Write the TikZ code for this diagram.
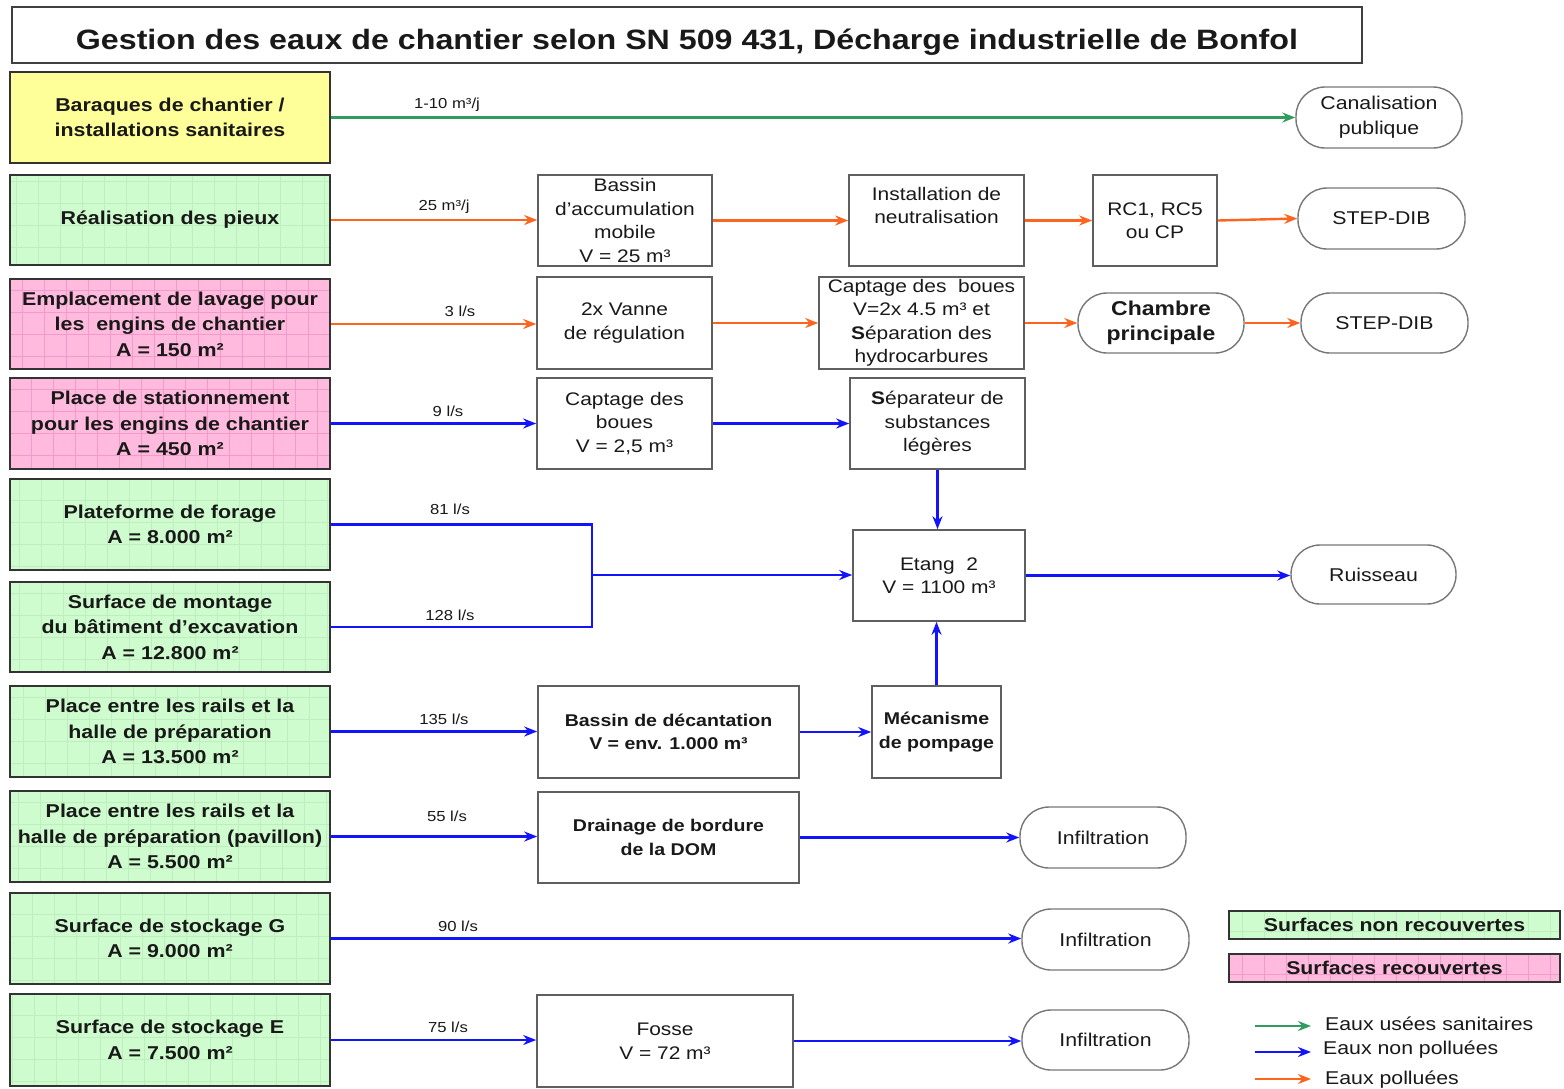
\documentclass[tikz,border=0pt]{standalone}
\usepackage{fontspec}
\setmainfont[FakeStretch=1.15]{Liberation Sans}
\usetikzlibrary{arrows.meta}
\definecolor{cyel}{RGB}{255,255,153}
\definecolor{cgreen}{RGB}{206,252,206}
\definecolor{cgreengrid}{RGB}{190,238,190}
\definecolor{cpink}{RGB}{255,186,222}
\definecolor{cpinkgrid}{RGB}{242,155,203}
\definecolor{agreen}{RGB}{50,155,95}
\definecolor{ablue}{RGB}{20,20,250}
\definecolor{aorange}{RGB}{255,100,30}
\definecolor{cborder}{RGB}{95,95,95}
\definecolor{ctext}{RGB}{25,25,25}
\newcommand\mybox[7]{\node[#1, minimum width={(#5-#3)*1pt}, minimum height={(#6-#4)*1pt}] (#2) at ({(#3+#5)/2},{(#4+#6)/2}) {#7};}
\tikzset{
  base/.style={inner sep=0pt, align=center, text=ctext},
  leftbox/.style={base, draw=black!80, line width=1.3pt, font=\bfseries\fontsize{18.6pt}{25.5pt}\selectfont},
  yelbox/.style={leftbox, fill=cyel},
  greenbox/.style={leftbox, fill=cgreen, path picture={\draw[cgreengrid, line width=0.6pt, step=22pt] (path picture bounding box.south west) grid (path picture bounding box.north east);}},
  pinkbox/.style={leftbox, fill=cpink, path picture={\draw[cpinkgrid, line width=0.6pt, step=22pt] (path picture bounding box.south west) grid (path picture bounding box.north east);}},
  midbox/.style={base, draw=cborder, line width=1.6pt, fill=white, font=\fontsize{18.2pt}{23.5pt}\selectfont},
  midboxb/.style={midbox, font=\bfseries\fontsize{17pt}{23.5pt}\selectfont},
  endbox/.style={base, draw=cborder!85, line width=1.4pt, rounded corners=29pt, fill=white, font=\fontsize{18.5pt}{25pt}\selectfont},
  endboxb/.style={endbox, font=\bfseries\fontsize{20pt}{25pt}\selectfont},
  lbl/.style={inner sep=0pt, text=ctext, font=\fontsize{14.5pt}{16pt}\selectfont},
  arr/.style={line width=2.4pt, -{Stealth[length=13pt,width=10pt]}},
  gline/.style={arr, draw=agreen},
  bline/.style={arr, draw=ablue},
  oline/.style={arr, draw=aorange},
  bplain/.style={line width=2.4pt, draw=ablue},
  legtext/.style={inner sep=0pt, anchor=west, text=ctext, font=\fontsize{18.5pt}{22pt}\selectfont},
}
\begin{document}
\begin{tikzpicture}[x=1pt,y=-1pt]
\useasboundingbox (0,0) rectangle (1564,1088);
\fill[white] (0,0) rectangle (1564,1088);
% title
\mybox{base, draw=black!75, line width=1.4pt, font=\bfseries\fontsize{28pt}{32pt}\selectfont}{title}{12}{7}{1362}{63}{\raisebox{-4pt}[20pt][0pt]{Gestion des eaux de chantier selon SN 509 431, Décharge industrielle de Bonfol}}
% left column
\mybox{yelbox}{s1}{10}{72}{330}{163}{Baraques de chantier /\\installations sanitaires}
\mybox{greenbox}{s2}{10}{175}{330}{265}{Réalisation des pieux}
\mybox{pinkbox}{s3}{10}{279}{330}{369}{Emplacement de lavage pour\\les\ \ engins de chantier\\A = 150 m²}
\mybox{pinkbox}{s4}{10}{378}{330}{469}{Place de stationnement\\pour les engins de chantier\\A = 450 m²}
\mybox{greenbox}{s5}{10}{479}{330}{570}{Plateforme de forage\\A = 8.000 m²}
\mybox{greenbox}{s6}{10}{582}{330}{672}{Surface de montage\\du bâtiment d'excavation\\A = 12.800 m²}
\mybox{greenbox}{s7}{10}{686}{330}{777}{Place entre les rails et la\\halle de préparation\\A = 13.500 m²}
\mybox{greenbox}{s8}{10}{791}{330}{882}{Place entre les rails et la\\halle de préparation (pavillon)\\A = 5.500 m²}
\mybox{greenbox}{s9}{10}{893}{330}{984}{Surface de stockage G\\A = 9.000 m²}
\mybox{greenbox}{s10}{10}{994}{330}{1086}{Surface de stockage E\\A = 7.500 m²}
% middle column
\mybox{midbox}{bassin}{538}{175}{712}{266}{Bassin\\d'accumulation\\mobile\\V = 25 m³}
\mybox{midbox}{vanne}{537}{277}{712}{369}{2x Vanne\\de régulation}
\mybox{midbox}{captage}{537}{378}{712}{469}{Captage des\\boues\\V = 2,5 m³}
\mybox{midboxb}{decant}{538}{686}{799}{778}{Bassin de décantation\\V = env. 1.000 m³}
\mybox{midboxb}{drain}{538}{792}{799}{883}{Drainage de bordure\\de la DOM}
\mybox{midbox}{fosse}{537}{995}{793}{1087}{Fosse\\V = 72 m³}
% third column
\mybox{midbox}{neutr}{849}{175}{1024}{266}{Installation de\\neutralisation\\\strut}
\mybox{midbox}{sepb}{819}{277}{1024}{369}{Captage des\ \ boues\\V=2x 4.5 m³ et\\\textbf{S}éparation des\\hydrocarbures}
\mybox{midbox}{sepl}{850}{378}{1025}{469}{\textbf{S}éparateur de\\substances\\légères}
\mybox{midbox}{etang}{853}{530}{1025}{621}{Etang\ \ 2\\V = 1100 m³}
\mybox{midboxb}{meca}{872}{686}{1001}{778}{Mécanisme\\de pompage}
\mybox{midbox}{rc}{1093}{175}{1217}{266}{RC1, RC5\\ou CP}
% end nodes
\mybox{endbox}{canal}{1296}{87}{1462}{148}{Canalisation\\publique}
\mybox{endbox}{step1}{1298}{188}{1465}{249}{STEP-DIB}
\mybox{endboxb}{chambre}{1078}{293}{1244}{353}{Chambre\\principale}
\mybox{endbox}{step2}{1301}{293}{1468}{353}{STEP-DIB}
\mybox{endbox}{ruis}{1291}{545}{1456}{604}{Ruisseau}
\mybox{endbox}{inf1}{1020}{807}{1186}{868}{Infiltration}
\mybox{endbox}{inf2}{1022}{909}{1189}{970}{Infiltration}
\mybox{endbox}{inf3}{1022}{1010}{1189}{1070}{Infiltration}
% connectors
\draw[gline] (s1.east) -- (s1.east -| canal.west);
\draw[oline] (s2.east) -- (s2.east -| bassin.west);
\draw[oline] (bassin.east) -- (bassin.east -| neutr.west);
\draw[oline] (neutr.east) -- (neutr.east -| rc.west);
\draw[oline] (rc.east) -- (step1.west);
\draw[oline] (s3.east) -- (s3.east -| vanne.west);
\draw[oline] (vanne.east) -- (vanne.east -| sepb.west);
\draw[oline] (sepb.east) -- (sepb.east -| chambre.west);
\draw[oline] (chambre.east) -- (chambre.east -| step2.west);
\draw[bline] (s4.east) -- (s4.east -| captage.west);
\draw[bline] (captage.east) -- (captage.east -| sepl.west);
\draw[bline] (sepl.south) -- (sepl.south |- etang.north);
\coordinate (join) at (592,575);
\draw[bplain] (s5.east) -| (join);
\draw[bplain] (s6.east) -| (join);
\draw[bline] (join) -- (join -| etang.west);
\draw[bline] (etang.east) -- (etang.east -| ruis.west);
\draw[bline] (s7.east) -- (s7.east -| decant.west);
\draw[bline] (decant.east) -- (decant.east -| meca.west);
\draw[bline] (meca.north) -- (meca.north |- etang.south);
\draw[bline] (s8.east) -- (s8.east -| drain.west);
\draw[bline] (drain.east) -- (drain.east -| inf1.west);
\draw[bline] (s9.east) -- (s9.east -| inf2.west);
\draw[bline] (s10.east) -- (s10.east -| fosse.west);
\draw[bline] (fosse.east) -- (fosse.east -| inf3.west);
% flow labels
\node[lbl] (l1) at (447,105) {1-10 m³/j};
\node[lbl] (l2) at (444,207) {25 m³/j};
\node[lbl] (l3) at (460,311) {3 l/s};
\node[lbl] (l4) at (448,411) {9 l/s};
\node[lbl] (l5) at (450,509) {81 l/s};
\node[lbl] (l6) at (450,615) {128 l/s};
\node[lbl] (l7) at (444,719) {135 l/s};
\node[lbl] (l8) at (447,816) {55 l/s};
\node[lbl] (l9) at (458,926) {90 l/s};
\node[lbl] (l10) at (448,1027) {75 l/s};
% legend
\mybox{greenbox, font=\bfseries\fontsize{18.5pt}{20pt}\selectfont}{leg1}{1229}{911}{1560}{939}{Surfaces non recouvertes}
\mybox{pinkbox, font=\bfseries\fontsize{18.5pt}{20pt}\selectfont}{leg2}{1229}{954}{1560}{982}{Surfaces recouvertes}
\coordinate (ga) at (1255,1026); \coordinate (gb) at (1311,1026);
\coordinate (ba) at (1255,1052); \coordinate (bb) at (1311,1052);
\coordinate (oa) at (1255,1079); \coordinate (ob) at (1311,1079);
\draw[gline] (ga) -- (gb);
\draw[bline] (ba) -- (bb);
\draw[oline] (oa) -- (ob);
\node[legtext] (t1) at (1325,1024) {Eaux usées sanitaires};
\node[legtext] (t2) at (1323,1050) {Eaux non polluées};
\node[legtext] (t3) at (1325,1080) {Eaux polluées};
\end{tikzpicture}
\end{document}
